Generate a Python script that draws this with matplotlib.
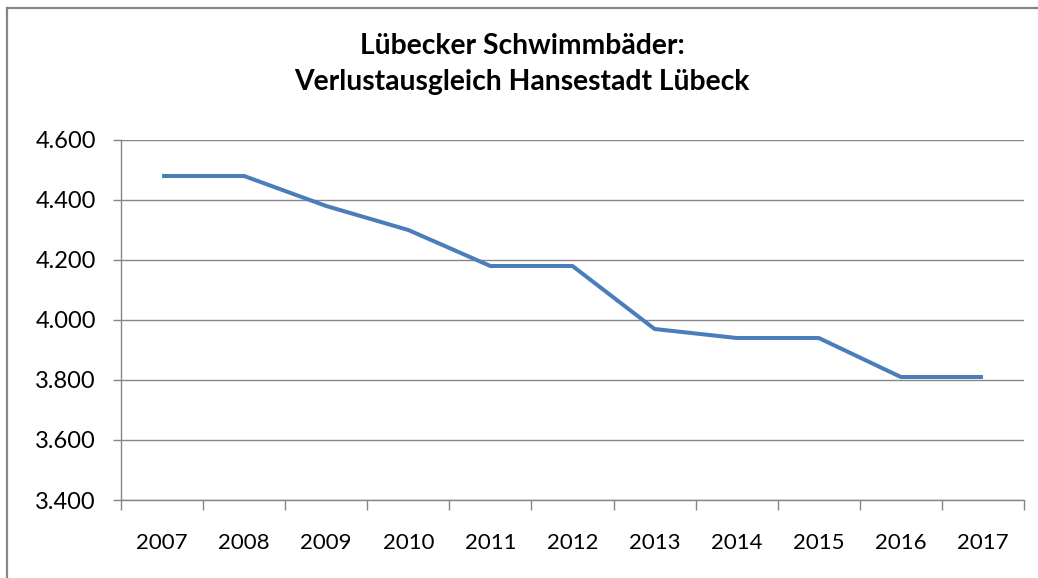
import matplotlib
matplotlib.use("Agg")
import matplotlib.pyplot as plt
from matplotlib.lines import Line2D
from matplotlib.ticker import FuncFormatter, FixedLocator
import numpy as np

years = ["2007", "2008", "2009", "2010", "2011", "2012", "2013", "2014", "2015", "2016", "2017"]
values = [4480, 4480, 4380, 4300, 4180, 4180, 3970, 3940, 3940, 3810, 3810]
yticks = [3400, 3600, 3800, 4000, 4200, 4400, 4600]
title = "Lübecker Schwimmbäder:\nVerlustausgleich Hansestadt Lübeck"

plt.rcParams['font.family'] = ['Lato', 'DejaVu Sans']

W, H = 1038, 578
fig = plt.figure(figsize=(W / 100, H / 100), dpi=100)
ax = fig.add_axes([121 / W, (H - 500) / H, (1024 - 121) / W, 360 / H])

x = np.arange(len(years))
ax.plot(x, values, color="#4a7ebb", linewidth=2.9, solid_capstyle="butt", solid_joinstyle="round", zorder=3)

grey = "#868686"
ax.set_ylim(3400, 4600)
ax.set_xlim(-0.5, len(years) - 0.5)
ax.set_yticks(yticks)
ax.yaxis.set_major_formatter(FuncFormatter(lambda v, p: f"{int(v):,}".replace(",", ".")))
ax.grid(axis="y", color=grey, linewidth=1)
ax.set_axisbelow(True)

ax.set_xticks(x)
ax.set_xticklabels(years)
ax.xaxis.set_minor_locator(FixedLocator(np.arange(-0.5, len(years), 1.0)))
ax.tick_params(axis="x", which="major", length=0, pad=24, labelsize=16)
ax.tick_params(axis="x", which="minor", length=7.5, color=grey, width=1)
ax.tick_params(axis="y", which="major", length=6, color=grey, width=1, labelsize=17, pad=12)

for s in ["top", "right"]:
    ax.spines[s].set_visible(False)
for s in ["left", "bottom"]:
    ax.spines[s].set_color(grey)
    ax.spines[s].set_linewidth(1)

fig.text(522 / W, 1 - 64 / H, title, ha="center", va="center",
         fontsize=20.3, fontweight="bold", linespacing=1.45)

# outer frame (top and left edges visible)
fig.add_artist(Line2D([7 / W, 1], [1 - 8 / H, 1 - 8 / H], transform=fig.transFigure, color="#878787", linewidth=1.6))
fig.add_artist(Line2D([7 / W, 7 / W], [0, 1 - 8 / H], transform=fig.transFigure, color="#878787", linewidth=1.6))

fig.savefig("out.png", dpi=100)
